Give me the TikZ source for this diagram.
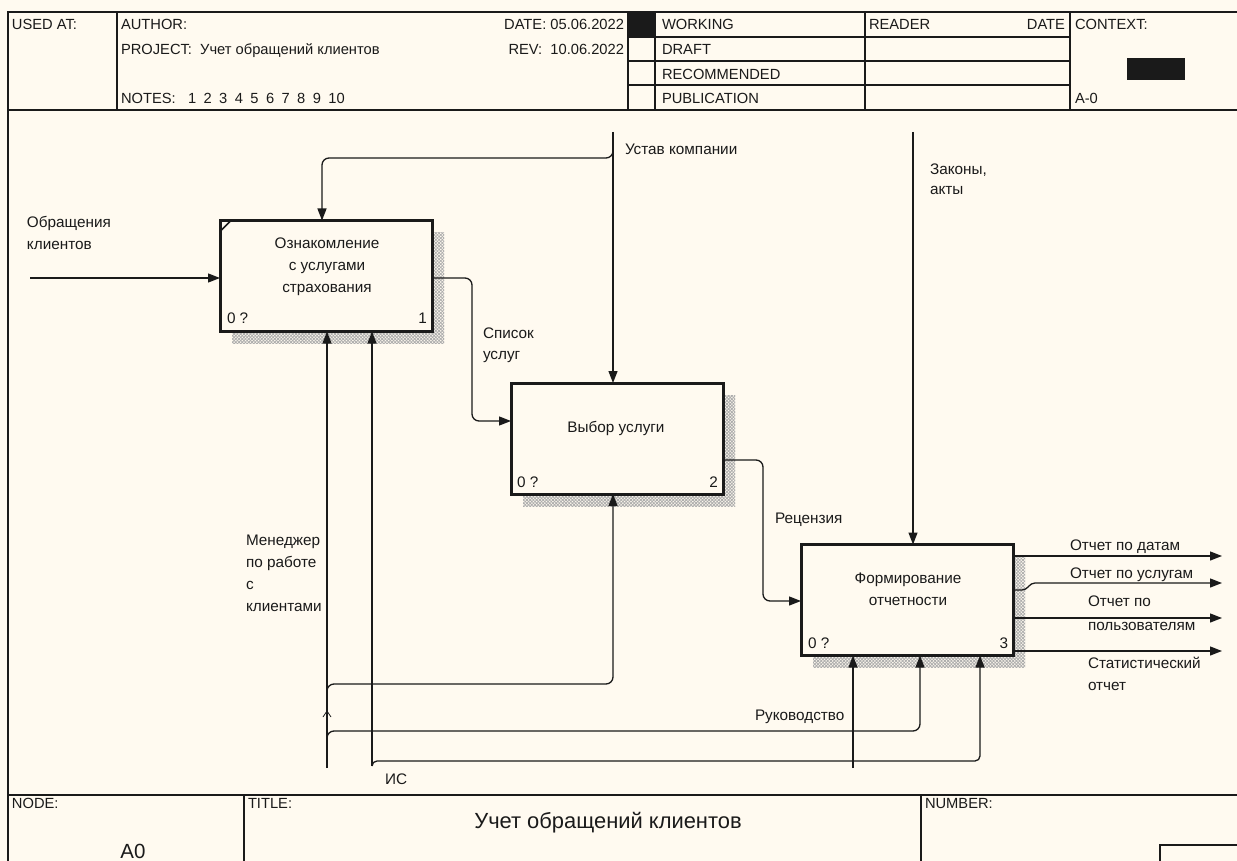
\documentclass[tikz,border=0pt]{standalone}
\usepackage{fontspec}
\setmainfont{Liberation Sans}
\usetikzlibrary{arrows.meta,patterns.meta,backgrounds}

\definecolor{paper}{HTML}{FFFAF0}
\definecolor{ink}{HTML}{1A1A1A}

\begin{document}
\begin{tikzpicture}[x=1pt,y=-1pt,
  every node/.style={font=\fontsize{15.3}{22}\selectfont, text=ink, inner sep=0pt, outer sep=0pt},
  frame/.style={draw=ink, line width=1.6pt},
  func/.style={draw=ink, line width=3pt, fill=paper, minimum width=212pt, minimum height=111pt},
  boxtext/.style={anchor=base, align=center},
  hatchA/.style={pattern={Lines[angle=45,distance=2.3pt,line width=0.8pt]}, pattern color=gray!65},
  hatchB/.style={pattern={Lines[angle=-45,distance=2.3pt,line width=0.8pt]}, pattern color=gray!65},
  arr/.style={draw=ink, line width=1.3pt, -{Triangle[length=12pt,width=9pt]}},
  lbl/.style={anchor=base west, align=left},
  hdr/.style={anchor=base west, font=\fontsize{14.7}{18}\selectfont},
]
\clip (0,0) rectangle (1237,861);
\begin{scope}[on background layer]
  \fill[paper] (0,0) rectangle (1237,861);
\end{scope}

% ---------- sheet frame ----------
\draw[frame] (8,880) -- (8,12) -- (1260,12);
\draw[frame] (8,110) -- (1260,110);
\draw[frame] (8,795) -- (1260,795);
\foreach \xx in {117,628,655,865,1070} \draw[frame] (\xx,12) -- (\xx,110);
\foreach \yy in {37,61,85} \draw[frame] (628,\yy) -- (1070,\yy);
\fill[ink] (628,12) rectangle (655,37);
\fill[ink] (1127,58) rectangle (1185,80);
\draw[frame] (244,795) -- (244,880);
\draw[frame] (921,795) -- (921,880);
\draw[draw=ink, line width=1.2pt] (1160,845) rectangle (1270,890);

% ---------- header texts ----------
\node[hdr] (usedat) at (12,30) {USED AT:};
\node[hdr] (author) at (121,30) {AUTHOR:};
\node[hdr] (project) at (121,55) {PROJECT:\ \ Учет обращений клиентов};
\node[hdr] (notes) at (121,104) {NOTES:};
\foreach \n [count=\i] in {1,...,10}
  \node[hdr] (note\n) at ({188+15.6*(\i-1)},104) {\n};
\node[hdr, anchor=base east] (date) at (624,30) {DATE: 05.06.2022};
\node[hdr, anchor=base east] (rev) at (624,55) {REV:\ \ 10.06.2022};
\node[hdr] (working) at (662,30) {WORKING};
\node[hdr] (draft) at (662,55) {DRAFT};
\node[hdr] (recom) at (662,80) {RECOMMENDED};
\node[hdr] (publ) at (662,104) {PUBLICATION};
\node[hdr] (reader) at (869,30) {READER};
\node[hdr, anchor=base east] (rdate) at (1065,30) {DATE};
\node[hdr] (context) at (1075,30) {CONTEXT:};
\node[hdr] (actx) at (1075,104) {A-0};

% ---------- footer texts ----------
\node[hdr] (nodelbl) at (12,808) {NODE:};
\node[hdr] (titlelbl) at (248,808) {TITLE:};
\node[hdr] (numlbl) at (925,808) {NUMBER:};
\node[anchor=base, font=\fontsize{21.9}{24}\selectfont] (title) at (608,828) {Учет обращений клиентов};
\node[anchor=base, font=\fontsize{20.5}{24}\selectfont] (nodeid) at (133,858) {A0};

% ---------- function boxes ----------
\node[func] (b1) at (326,276) {};
\node[func] (b2) at (617,438.5) {};
\node[func] (b3) at (907,600) {};

\begin{scope}[on background layer]
  \foreach \b in {b1,b2,b3} {
    \fill[hatchA] ([shift={(12,12)}]\b.north west) rectangle ([shift={(12,12)}]\b.south east);
    \fill[hatchB] ([shift={(12,12)}]\b.north west) rectangle ([shift={(12,12)}]\b.south east);
  }
\end{scope}

\draw[draw=ink, line width=1.6pt] ([yshift=-11pt]b1.north west) -- ([xshift=11pt]b1.north west);

% multi-line nodes sit on the baseline of their last line
\node[boxtext] (t1) at (327,292) {Ознакомление\\с услугами\\страхования};
\node[boxtext] (t2) at (616,432) {Выбор услуги};
\node[boxtext] (t3) at (908,605) {Формирование\\отчетности};

\node[lbl] (c1) at (227,323) {0 ?};
\node[anchor=base east] (n1) at (427,323) {1};
\node[lbl] (c2) at (517,487) {0 ?};
\node[anchor=base east] (n2) at (718,487) {2};
\node[lbl] (c3) at (808,648) {0 ?};
\node[anchor=base east] (n3) at (1008,648) {3};

% ---------- inputs ----------
\coordinate (in1) at (30,278);
\draw[arr] (in1) -- (in1 -| b1.west);
\node[lbl] (lin1) at (27,250) {Обращения\\клиентов};

\coordinate (s1) at (472,278);
\coordinate (s2) at (472,421);
\draw[arr, rounded corners=7pt] (s1 -| b1.east) -- (s1) -- (s2) -- (s2 -| b2.west);
\node[lbl, font=\fontsize{15.3}{21}\selectfont] (ls) at (483,359) {Список\\услуг};

\coordinate (r1) at (763,460);
\coordinate (r2) at (763,601);
\draw[arr, rounded corners=7pt] (r1 -| b2.east) -- (r1) -- (r2) -- (r2 -| b3.west);
\node[lbl] (lr) at (775,523) {Рецензия};

% ---------- controls ----------
\coordinate (ust) at (613,132);
\coordinate (ustb) at (613,150);
\coordinate (ustx) at (322,158);
\draw[arr] (ust) -- (ust |- b2.north);
\draw[arr, rounded corners=7pt] (ustb) -- (ustb |- ustx) -- (ustx) -- (ustx |- b1.north);
\node[lbl] (lust) at (625,155) {Устав компании};

\coordinate (zak) at (913,132);
\draw[arr] (zak) -- (zak |- b3.north);
\node[lbl, font=\fontsize{15.3}{20.5}\selectfont] (lzak) at (930,195) {Законы,\\акты};

% ---------- outputs ----------
\coordinate (o1) at (1222,556);
\coordinate (o2) at (1222,583);
\coordinate (o2s) at (1013,590);
\coordinate (o3) at (1222,618);
\coordinate (o4) at (1222,651);
\draw[arr] (o1 -| b3.east) -- (o1);
\draw[arr, rounded corners=4pt] (o2s) -- ++(13,0) -- ++(5,-7) -- (o2);
\draw[arr] (o3 -| b3.east) -- (o3);
\draw[arr] (o4 -| b3.east) -- (o4);
\node[lbl] (lo1) at (1070,550) {Отчет по датам};
\node[lbl] (lo2) at (1070,578) {Отчет по услугам};
\node[lbl, font=\fontsize{15.3}{24}\selectfont] (lo3) at (1088,630) {Отчет по\\пользователям};
\node[lbl] (lo4) at (1088,690) {Статистический\\отчет};

% ---------- mechanisms ----------
\coordinate (mgr) at (327,768);
\draw[arr] (mgr) -- (mgr |- b1.south);
\coordinate (ma) at (327,692);
\coordinate (mb) at (613,684);
\draw[arr, rounded corners=7pt] (ma) -- (ma |- mb) -- (mb) -- (mb |- b2.south);
\coordinate (mc) at (327,739);
\coordinate (md) at (920,731);
\draw[arr, rounded corners=7pt] (mc) -- (mc |- md) -- (md) -- (md |- b3.south);
\draw[draw=ink, line width=0.8pt] (323,717) -- (327,711) -- (331,717);
\node[lbl] (lmgr) at (246,611) {Менеджер\\по работе\\с\\клиентами};

\coordinate (ruk) at (853,768);
\draw[arr] (ruk) -- (ruk |- b3.south);
\node[lbl] (lruk) at (755,720) {Руководство};

\coordinate (is) at (372,766);
\coordinate (ise) at (980,761);
\draw[arr] (is) -- (is |- b1.south);
\draw[arr, rounded corners=5pt] (is) -- (is |- ise) -- (ise) -- (ise |- b3.south);
\node[lbl] (lis) at (385,784) {ИС};
\end{tikzpicture}
\end{document}
